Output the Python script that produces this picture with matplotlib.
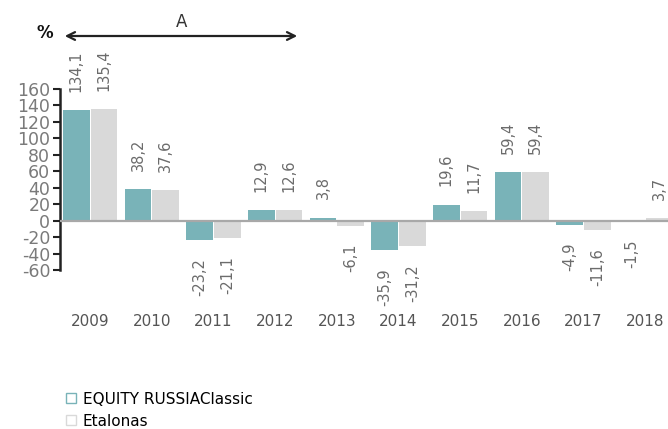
import numpy as np
import matplotlib.pyplot as plt
from matplotlib.lines import Line2D

years = ["2009", "2010", "2011", "2012", "2013", "2014", "2015", "2016", "2017", "2018"]
equity = [134.1, 38.2, -23.2, 12.9, 3.8, -35.9, 19.6, 59.4, -4.9, -1.5]
etalon = [135.4, 37.6, -21.1, 12.6, -6.1, -31.2, 11.7, 59.4, -11.6, 3.7]
series_names = ["EQUITY RUSSIAClassic", "Etalonas"]
yticks = [-60, -40, -20, 0, 20, 40, 60, 80, 100, 120, 140, 160]

TEAL, LGRAY, TXT = "#79b3b8", "#d9d9d9", "#6b6b6b"
plt.rcParams["axes.unicode_minus"] = False

def fmt(v): return f"{v:.1f}".replace(".", ",")

fig = plt.figure(figsize=(6.68, 4.29), dpi=100)
ax = fig.add_axes([60 / 668, 1 - 270 / 429, 608 / 668, 181 / 429])

x = np.arange(len(years))
w = 0.43
b1 = ax.bar(x - 0.225, equity, w, color=TEAL, zorder=2)
b2 = ax.bar(x + 0.225, etalon, w, color=LGRAY, zorder=2)
ax.axhline(0, color="#a8a8a8", lw=1.6, zorder=3)

# rotated value labels above / below each bar
for bars, vals in ((b1, equity), (b2, etalon)):
    for r, v in zip(bars, vals):
        up = v >= 0
        ax.annotate(fmt(v), (r.get_x() + r.get_width() / 2, v), xytext=(0, 13 if up else -13),
                    textcoords="offset points", rotation=90, ha="center",
                    va="bottom" if up else "top", fontsize=10.5, color=TXT, annotation_clip=False)

ax.set_xlim(-0.49, 9.37); ax.set_ylim(-60, 160)
ax.set_yticks(yticks)
ax.tick_params(axis="y", direction="out", length=5, width=1.5, color="#222222", labelcolor="#7a7a7a",
               labelsize=12.5, pad=2)
ax.set_xticks(x); ax.set_xticklabels(years)
ax.tick_params(axis="x", length=0, pad=32, labelsize=11, labelcolor="#555555")
for s in ("top", "right", "bottom"): ax.spines[s].set_visible(False)
ax.spines["left"].set_linewidth(1.8); ax.spines["left"].set_color("#222222")

# period arrow "A" and percent sign
ax.annotate("", xy=(300 / 668, 1 - 36 / 429), xytext=(62 / 668, 1 - 36 / 429), xycoords="figure fraction",
            arrowprops=dict(arrowstyle="<->", color="#222222", lw=1.6, mutation_scale=14), annotation_clip=False)
fig.text(182 / 668, 1 - 22 / 429, "A", ha="center", va="center", fontsize=12, color="#333333")
fig.text(45 / 668, 1 - 33 / 429, "%", ha="center", va="center", fontsize=12, fontweight="bold", color="#111111")

handles = [Line2D([], [], marker="s", ls="", markerfacecolor="white", markeredgecolor=c, markersize=7, markeredgewidth=1)
           for c in (TEAL, LGRAY)]
fig.legend(handles, series_names, loc="upper left", bbox_to_anchor=(57 / 668, 1 - 384 / 429), frameon=False,
           fontsize=11, handlelength=0.8, handletextpad=0.4, labelspacing=0.45, borderpad=0)

fig.savefig("out.png", dpi=100)
